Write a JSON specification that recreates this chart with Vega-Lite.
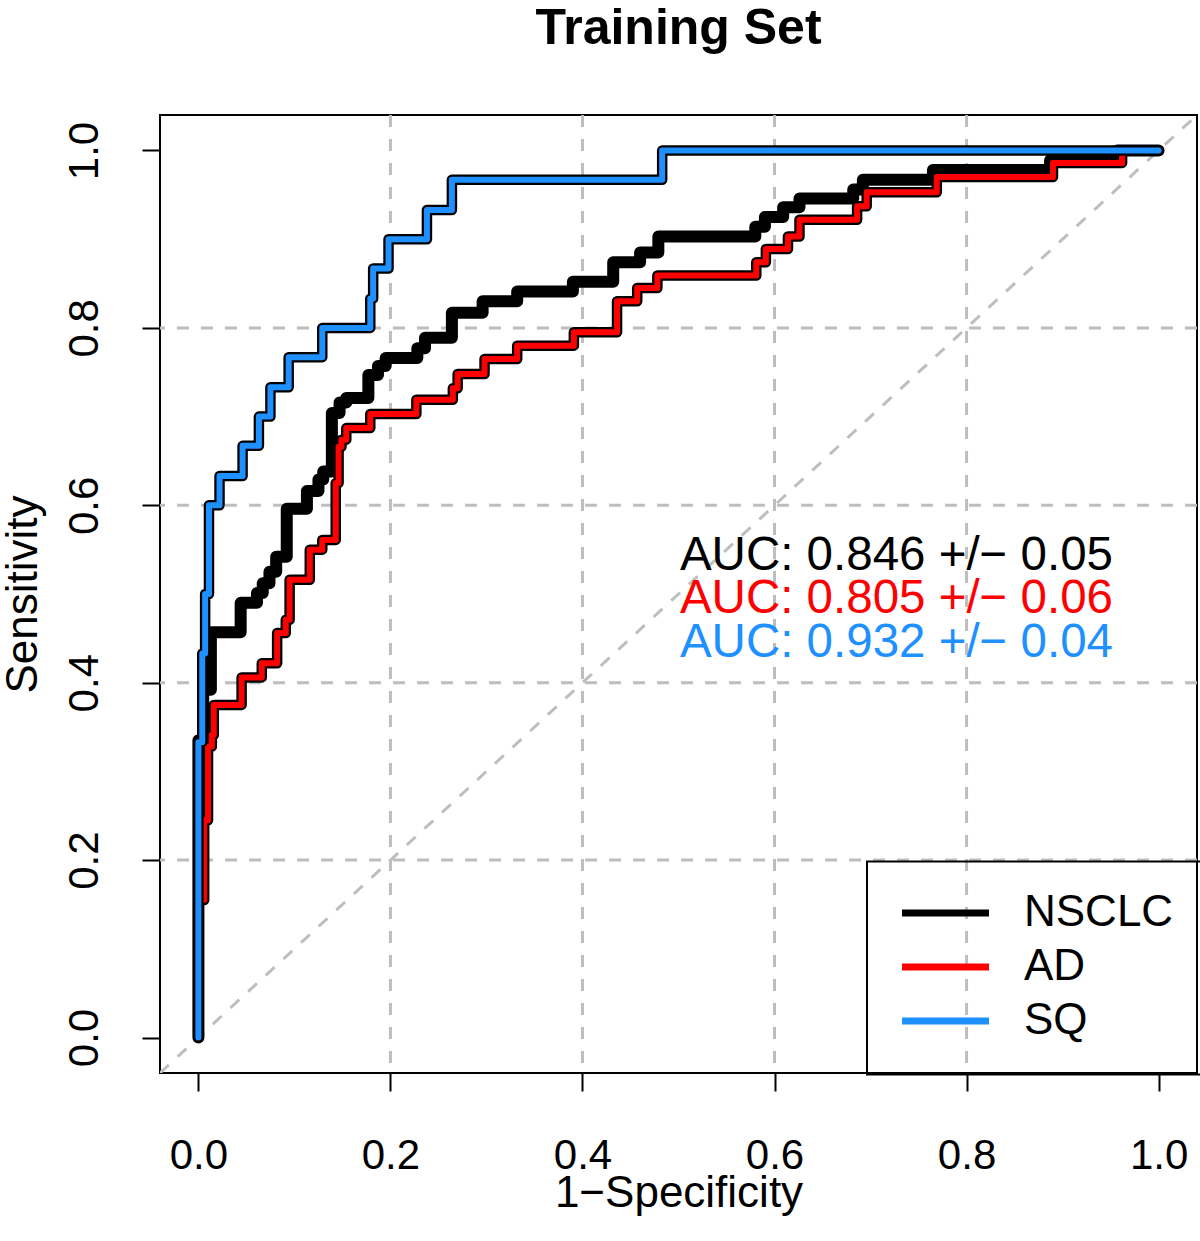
{
  "$schema": "https://vega.github.io/schema/vega-lite/v6.json",
  "width": 1037,
  "height": 958,
  "autosize": {"type": "none"},
  "padding": {"left": 160, "top": 115, "right": 3, "bottom": 168},
  "background": "white",
  "title": {"text": "Training Set", "fontSize": 50, "fontWeight": "bold", "font": "Liberation Sans", "anchor": "middle", "frame": "group", "offset": 20, "color": "black", "baseline": "alphabetic"},
  "config": {
    "font": "Liberation Sans",
    "view": {"stroke": "black", "strokeWidth": 2},
    "legend": {"strokeWidth": 2}
  },
  "datasets": {
    "roc": [
      {"s": "NSCLC", "i": 0, "fpr": 0, "tpr": 0},
      {"s": "NSCLC", "i": 1, "fpr": 0, "tpr": 0.335},
      {"s": "NSCLC", "i": 2, "fpr": 0.005, "tpr": 0.392},
      {"s": "NSCLC", "i": 3, "fpr": 0.013, "tpr": 0.457},
      {"s": "NSCLC", "i": 4, "fpr": 0.044, "tpr": 0.490},
      {"s": "NSCLC", "i": 5, "fpr": 0.061, "tpr": 0.501},
      {"s": "NSCLC", "i": 6, "fpr": 0.067, "tpr": 0.512},
      {"s": "NSCLC", "i": 7, "fpr": 0.074, "tpr": 0.525},
      {"s": "NSCLC", "i": 8, "fpr": 0.081, "tpr": 0.542},
      {"s": "NSCLC", "i": 9, "fpr": 0.092, "tpr": 0.596},
      {"s": "NSCLC", "i": 10, "fpr": 0.113, "tpr": 0.616},
      {"s": "NSCLC", "i": 11, "fpr": 0.125, "tpr": 0.629},
      {"s": "NSCLC", "i": 12, "fpr": 0.130, "tpr": 0.638},
      {"s": "NSCLC", "i": 13, "fpr": 0.139, "tpr": 0.704},
      {"s": "NSCLC", "i": 14, "fpr": 0.147, "tpr": 0.716},
      {"s": "NSCLC", "i": 15, "fpr": 0.154, "tpr": 0.721},
      {"s": "NSCLC", "i": 16, "fpr": 0.177, "tpr": 0.747},
      {"s": "NSCLC", "i": 17, "fpr": 0.187, "tpr": 0.757},
      {"s": "NSCLC", "i": 18, "fpr": 0.195, "tpr": 0.766},
      {"s": "NSCLC", "i": 19, "fpr": 0.228, "tpr": 0.777},
      {"s": "NSCLC", "i": 20, "fpr": 0.236, "tpr": 0.789},
      {"s": "NSCLC", "i": 21, "fpr": 0.264, "tpr": 0.817},
      {"s": "NSCLC", "i": 22, "fpr": 0.296, "tpr": 0.830},
      {"s": "NSCLC", "i": 23, "fpr": 0.332, "tpr": 0.841},
      {"s": "NSCLC", "i": 24, "fpr": 0.390, "tpr": 0.852},
      {"s": "NSCLC", "i": 25, "fpr": 0.432, "tpr": 0.874},
      {"s": "NSCLC", "i": 26, "fpr": 0.460, "tpr": 0.885},
      {"s": "NSCLC", "i": 27, "fpr": 0.479, "tpr": 0.903},
      {"s": "NSCLC", "i": 28, "fpr": 0.580, "tpr": 0.914},
      {"s": "NSCLC", "i": 29, "fpr": 0.590, "tpr": 0.925},
      {"s": "NSCLC", "i": 30, "fpr": 0.609, "tpr": 0.936},
      {"s": "NSCLC", "i": 31, "fpr": 0.626, "tpr": 0.946},
      {"s": "NSCLC", "i": 32, "fpr": 0.682, "tpr": 0.956},
      {"s": "NSCLC", "i": 33, "fpr": 0.692, "tpr": 0.967},
      {"s": "NSCLC", "i": 34, "fpr": 0.765, "tpr": 0.978},
      {"s": "NSCLC", "i": 35, "fpr": 0.887, "tpr": 0.989},
      {"s": "NSCLC", "i": 36, "fpr": 0.957, "tpr": 1.0},
      {"s": "NSCLC", "i": 37, "fpr": 1.0, "tpr": 1.0},
      {"s": "AD", "i": 0, "fpr": 0, "tpr": 0},
      {"s": "AD", "i": 1, "fpr": 0, "tpr": 0.155},
      {"s": "AD", "i": 2, "fpr": 0.006, "tpr": 0.245},
      {"s": "AD", "i": 3, "fpr": 0.010, "tpr": 0.328},
      {"s": "AD", "i": 4, "fpr": 0.014, "tpr": 0.341},
      {"s": "AD", "i": 5, "fpr": 0.016, "tpr": 0.375},
      {"s": "AD", "i": 6, "fpr": 0.045, "tpr": 0.406},
      {"s": "AD", "i": 7, "fpr": 0.066, "tpr": 0.422},
      {"s": "AD", "i": 8, "fpr": 0.082, "tpr": 0.456},
      {"s": "AD", "i": 9, "fpr": 0.091, "tpr": 0.471},
      {"s": "AD", "i": 10, "fpr": 0.095, "tpr": 0.516},
      {"s": "AD", "i": 11, "fpr": 0.116, "tpr": 0.550},
      {"s": "AD", "i": 12, "fpr": 0.129, "tpr": 0.561},
      {"s": "AD", "i": 13, "fpr": 0.143, "tpr": 0.625},
      {"s": "AD", "i": 14, "fpr": 0.146, "tpr": 0.666},
      {"s": "AD", "i": 15, "fpr": 0.149, "tpr": 0.674},
      {"s": "AD", "i": 16, "fpr": 0.154, "tpr": 0.687},
      {"s": "AD", "i": 17, "fpr": 0.179, "tpr": 0.703},
      {"s": "AD", "i": 18, "fpr": 0.227, "tpr": 0.719},
      {"s": "AD", "i": 19, "fpr": 0.265, "tpr": 0.732},
      {"s": "AD", "i": 20, "fpr": 0.270, "tpr": 0.748},
      {"s": "AD", "i": 21, "fpr": 0.298, "tpr": 0.765},
      {"s": "AD", "i": 22, "fpr": 0.332, "tpr": 0.780},
      {"s": "AD", "i": 23, "fpr": 0.391, "tpr": 0.795},
      {"s": "AD", "i": 24, "fpr": 0.436, "tpr": 0.830},
      {"s": "AD", "i": 25, "fpr": 0.457, "tpr": 0.845},
      {"s": "AD", "i": 26, "fpr": 0.478, "tpr": 0.859},
      {"s": "AD", "i": 27, "fpr": 0.581, "tpr": 0.874},
      {"s": "AD", "i": 28, "fpr": 0.591, "tpr": 0.889},
      {"s": "AD", "i": 29, "fpr": 0.614, "tpr": 0.903},
      {"s": "AD", "i": 30, "fpr": 0.626, "tpr": 0.922},
      {"s": "AD", "i": 31, "fpr": 0.686, "tpr": 0.937},
      {"s": "AD", "i": 32, "fpr": 0.696, "tpr": 0.953},
      {"s": "AD", "i": 33, "fpr": 0.769, "tpr": 0.970},
      {"s": "AD", "i": 34, "fpr": 0.890, "tpr": 0.986},
      {"s": "AD", "i": 35, "fpr": 0.962, "tpr": 1.0},
      {"s": "AD", "i": 36, "fpr": 1.0, "tpr": 1.0},
      {"s": "SQ", "i": 0, "fpr": 0, "tpr": 0},
      {"s": "SQ", "i": 1, "fpr": 0, "tpr": 0.333},
      {"s": "SQ", "i": 2, "fpr": 0.004, "tpr": 0.433},
      {"s": "SQ", "i": 3, "fpr": 0.007, "tpr": 0.5},
      {"s": "SQ", "i": 4, "fpr": 0.011, "tpr": 0.6},
      {"s": "SQ", "i": 5, "fpr": 0.022, "tpr": 0.633},
      {"s": "SQ", "i": 6, "fpr": 0.046, "tpr": 0.667},
      {"s": "SQ", "i": 7, "fpr": 0.063, "tpr": 0.7},
      {"s": "SQ", "i": 8, "fpr": 0.075, "tpr": 0.733},
      {"s": "SQ", "i": 9, "fpr": 0.094, "tpr": 0.767},
      {"s": "SQ", "i": 10, "fpr": 0.129, "tpr": 0.8},
      {"s": "SQ", "i": 11, "fpr": 0.179, "tpr": 0.833},
      {"s": "SQ", "i": 12, "fpr": 0.182, "tpr": 0.867},
      {"s": "SQ", "i": 13, "fpr": 0.198, "tpr": 0.9},
      {"s": "SQ", "i": 14, "fpr": 0.238, "tpr": 0.933},
      {"s": "SQ", "i": 15, "fpr": 0.264, "tpr": 0.967},
      {"s": "SQ", "i": 16, "fpr": 0.483, "tpr": 1.0},
      {"s": "SQ", "i": 17, "fpr": 1.0, "tpr": 1.0}
    ],
    "grid": [{"g": 0.2}, {"g": 0.4}, {"g": 0.6}, {"g": 0.8}],
    "auc": [
      {"s": "NSCLC", "label": "AUC: 0.846 +/− 0.05"},
      {"s": "AD", "label": "AUC: 0.805 +/− 0.06"},
      {"s": "SQ", "label": "AUC: 0.932 +/− 0.04"}
    ]
  },
  "layer": [
    {
      "data": {"name": "grid"},
      "mark": {"type": "rule", "color": "#bebebe", "strokeWidth": 3, "strokeDash": [12, 12]},
      "encoding": {
        "x": {"field": "g", "type": "quantitative", "scale": {"domain": [-0.04, 1.04], "nice": false, "zero": false},
          "axis": {"values": [0, 0.2, 0.4, 0.6, 0.8, 1], "format": ".1f", "title": "1−Specificity", "grid": false, "domain": false, "tickSize": 18, "tickWidth": 2, "tickColor": "black", "labelFontSize": 42, "labelColor": "black", "labelPadding": 77, "labelBaseline": "alphabetic", "labelFlush": false, "labelOverlap": false, "titleFontSize": 44, "titleFontWeight": "normal", "titleColor": "black", "titleY": 133, "titleBaseline": "alphabetic"}}
      }
    },
    {
      "data": {"name": "grid"},
      "mark": {"type": "rule", "color": "#bebebe", "strokeWidth": 3, "strokeDash": [12, 12]},
      "encoding": {
        "y": {"field": "g", "type": "quantitative", "scale": {"domain": [-0.04, 1.04], "nice": false, "zero": false},
          "axis": {"values": [0, 0.2, 0.4, 0.6, 0.8, 1], "format": ".1f", "title": "Sensitivity", "grid": false, "domain": false, "tickSize": 18, "tickWidth": 2, "tickColor": "black", "labelFontSize": 42, "labelColor": "black", "labelAngle": 270, "labelAlign": "center", "labelBaseline": "alphabetic", "labelPadding": 45, "labelFlush": false, "labelOverlap": false, "titleFontSize": 44, "titleFontWeight": "normal", "titleColor": "black", "titleAngle": 270, "titleBaseline": "alphabetic", "titleAlign": "center", "titleX": -124, "titleY": 479}}
      }
    },
    {
      "data": {"name": "grid"},
      "transform": [{"filter": "datum.g === 0.2"}],
      "mark": {"type": "rule", "color": "#bebebe", "strokeWidth": 3, "strokeDash": [12, 12], "clip": true},
      "encoding": {
        "x": {"datum": -0.04, "type": "quantitative",
          "axis": {"values": [0, 0.2, 0.4, 0.6, 0.8, 1], "format": ".1f", "title": "1−Specificity", "grid": false, "domain": false, "tickSize": 18, "tickWidth": 2, "tickColor": "black", "labelFontSize": 42, "labelColor": "black", "labelPadding": 77, "labelBaseline": "alphabetic", "labelFlush": false, "labelOverlap": false, "titleFontSize": 44, "titleFontWeight": "normal", "titleColor": "black", "titleY": 133, "titleBaseline": "alphabetic"}},
        "y": {"datum": -0.04, "type": "quantitative",
          "axis": {"values": [0, 0.2, 0.4, 0.6, 0.8, 1], "format": ".1f", "title": "Sensitivity", "grid": false, "domain": false, "tickSize": 18, "tickWidth": 2, "tickColor": "black", "labelFontSize": 42, "labelColor": "black", "labelAngle": 270, "labelAlign": "center", "labelBaseline": "alphabetic", "labelPadding": 45, "labelFlush": false, "labelOverlap": false, "titleFontSize": 44, "titleFontWeight": "normal", "titleColor": "black", "titleAngle": 270, "titleBaseline": "alphabetic", "titleAlign": "center", "titleX": -124, "titleY": 479}},
        "x2": {"datum": 1.04},
        "y2": {"datum": 1.04}
      }
    },
    {
      "data": {"name": "roc"},
      "transform": [{"filter": "datum.s === 'NSCLC'"}],
      "mark": {"type": "line", "interpolate": "step-after", "strokeWidth": 12, "strokeCap": "round", "strokeJoin": "round", "clip": true},
      "encoding": {
        "x": {"field": "fpr", "type": "quantitative",
          "axis": {"values": [0, 0.2, 0.4, 0.6, 0.8, 1], "format": ".1f", "title": "1−Specificity", "grid": false, "domain": false, "tickSize": 18, "tickWidth": 2, "tickColor": "black", "labelFontSize": 42, "labelColor": "black", "labelPadding": 77, "labelBaseline": "alphabetic", "labelFlush": false, "labelOverlap": false, "titleFontSize": 44, "titleFontWeight": "normal", "titleColor": "black", "titleY": 133, "titleBaseline": "alphabetic"}},
        "y": {"field": "tpr", "type": "quantitative",
          "axis": {"values": [0, 0.2, 0.4, 0.6, 0.8, 1], "format": ".1f", "title": "Sensitivity", "grid": false, "domain": false, "tickSize": 18, "tickWidth": 2, "tickColor": "black", "labelFontSize": 42, "labelColor": "black", "labelAngle": 270, "labelAlign": "center", "labelBaseline": "alphabetic", "labelPadding": 45, "labelFlush": false, "labelOverlap": false, "titleFontSize": 44, "titleFontWeight": "normal", "titleColor": "black", "titleAngle": 270, "titleBaseline": "alphabetic", "titleAlign": "center", "titleX": -124, "titleY": 479}},
        "order": {"field": "i", "type": "quantitative"},
        "color": {"field": "s", "type": "nominal", "scale": {"domain": ["NSCLC", "AD", "SQ"], "range": ["#000000", "#FF0000", "#1E90FF"]},
          "legend": {"title": null, "orient": "none", "legendX": 707, "legendY": 746.5, "strokeColor": "black", "padding": 31.5, "clipHeight": 40, "rowPadding": 10, "symbolType": "stroke", "symbolSize": 7569, "symbolStrokeWidth": 7, "labelFontSize": 44, "labelColor": "black", "labelOffset": 31.5, "labelFont": "Liberation Sans"}}
      }
    },
    {
      "data": {"name": "roc"},
      "transform": [{"filter": "datum.s === 'AD'"}],
      "mark": {"type": "line", "interpolate": "step-after", "strokeWidth": 10.5, "strokeCap": "round", "strokeJoin": "round", "clip": true, "color": "black"},
      "encoding": {
        "x": {"field": "fpr", "type": "quantitative",
          "axis": {"values": [0, 0.2, 0.4, 0.6, 0.8, 1], "format": ".1f", "title": "1−Specificity", "grid": false, "domain": false, "tickSize": 18, "tickWidth": 2, "tickColor": "black", "labelFontSize": 42, "labelColor": "black", "labelPadding": 77, "labelBaseline": "alphabetic", "labelFlush": false, "labelOverlap": false, "titleFontSize": 44, "titleFontWeight": "normal", "titleColor": "black", "titleY": 133, "titleBaseline": "alphabetic"}},
        "y": {"field": "tpr", "type": "quantitative",
          "axis": {"values": [0, 0.2, 0.4, 0.6, 0.8, 1], "format": ".1f", "title": "Sensitivity", "grid": false, "domain": false, "tickSize": 18, "tickWidth": 2, "tickColor": "black", "labelFontSize": 42, "labelColor": "black", "labelAngle": 270, "labelAlign": "center", "labelBaseline": "alphabetic", "labelPadding": 45, "labelFlush": false, "labelOverlap": false, "titleFontSize": 44, "titleFontWeight": "normal", "titleColor": "black", "titleAngle": 270, "titleBaseline": "alphabetic", "titleAlign": "center", "titleX": -124, "titleY": 479}},
        "order": {"field": "i", "type": "quantitative"}
      }
    },
    {
      "data": {"name": "roc"},
      "transform": [{"filter": "datum.s === 'AD'"}],
      "mark": {"type": "line", "interpolate": "step-after", "strokeWidth": 6, "strokeCap": "round", "strokeJoin": "round", "clip": true},
      "encoding": {
        "x": {"field": "fpr", "type": "quantitative",
          "axis": {"values": [0, 0.2, 0.4, 0.6, 0.8, 1], "format": ".1f", "title": "1−Specificity", "grid": false, "domain": false, "tickSize": 18, "tickWidth": 2, "tickColor": "black", "labelFontSize": 42, "labelColor": "black", "labelPadding": 77, "labelBaseline": "alphabetic", "labelFlush": false, "labelOverlap": false, "titleFontSize": 44, "titleFontWeight": "normal", "titleColor": "black", "titleY": 133, "titleBaseline": "alphabetic"}},
        "y": {"field": "tpr", "type": "quantitative",
          "axis": {"values": [0, 0.2, 0.4, 0.6, 0.8, 1], "format": ".1f", "title": "Sensitivity", "grid": false, "domain": false, "tickSize": 18, "tickWidth": 2, "tickColor": "black", "labelFontSize": 42, "labelColor": "black", "labelAngle": 270, "labelAlign": "center", "labelBaseline": "alphabetic", "labelPadding": 45, "labelFlush": false, "labelOverlap": false, "titleFontSize": 44, "titleFontWeight": "normal", "titleColor": "black", "titleAngle": 270, "titleBaseline": "alphabetic", "titleAlign": "center", "titleX": -124, "titleY": 479}},
        "order": {"field": "i", "type": "quantitative"},
        "color": {"field": "s", "type": "nominal"}
      }
    },
    {
      "data": {"name": "roc"},
      "transform": [{"filter": "datum.s === 'SQ'"}],
      "mark": {"type": "line", "interpolate": "step-after", "strokeWidth": 10.5, "strokeCap": "round", "strokeJoin": "round", "clip": true, "color": "black"},
      "encoding": {
        "x": {"field": "fpr", "type": "quantitative",
          "axis": {"values": [0, 0.2, 0.4, 0.6, 0.8, 1], "format": ".1f", "title": "1−Specificity", "grid": false, "domain": false, "tickSize": 18, "tickWidth": 2, "tickColor": "black", "labelFontSize": 42, "labelColor": "black", "labelPadding": 77, "labelBaseline": "alphabetic", "labelFlush": false, "labelOverlap": false, "titleFontSize": 44, "titleFontWeight": "normal", "titleColor": "black", "titleY": 133, "titleBaseline": "alphabetic"}},
        "y": {"field": "tpr", "type": "quantitative",
          "axis": {"values": [0, 0.2, 0.4, 0.6, 0.8, 1], "format": ".1f", "title": "Sensitivity", "grid": false, "domain": false, "tickSize": 18, "tickWidth": 2, "tickColor": "black", "labelFontSize": 42, "labelColor": "black", "labelAngle": 270, "labelAlign": "center", "labelBaseline": "alphabetic", "labelPadding": 45, "labelFlush": false, "labelOverlap": false, "titleFontSize": 44, "titleFontWeight": "normal", "titleColor": "black", "titleAngle": 270, "titleBaseline": "alphabetic", "titleAlign": "center", "titleX": -124, "titleY": 479}},
        "order": {"field": "i", "type": "quantitative"}
      }
    },
    {
      "data": {"name": "roc"},
      "transform": [{"filter": "datum.s === 'SQ'"}],
      "mark": {"type": "line", "interpolate": "step-after", "strokeWidth": 6, "strokeCap": "round", "strokeJoin": "round", "clip": true},
      "encoding": {
        "x": {"field": "fpr", "type": "quantitative",
          "axis": {"values": [0, 0.2, 0.4, 0.6, 0.8, 1], "format": ".1f", "title": "1−Specificity", "grid": false, "domain": false, "tickSize": 18, "tickWidth": 2, "tickColor": "black", "labelFontSize": 42, "labelColor": "black", "labelPadding": 77, "labelBaseline": "alphabetic", "labelFlush": false, "labelOverlap": false, "titleFontSize": 44, "titleFontWeight": "normal", "titleColor": "black", "titleY": 133, "titleBaseline": "alphabetic"}},
        "y": {"field": "tpr", "type": "quantitative",
          "axis": {"values": [0, 0.2, 0.4, 0.6, 0.8, 1], "format": ".1f", "title": "Sensitivity", "grid": false, "domain": false, "tickSize": 18, "tickWidth": 2, "tickColor": "black", "labelFontSize": 42, "labelColor": "black", "labelAngle": 270, "labelAlign": "center", "labelBaseline": "alphabetic", "labelPadding": 45, "labelFlush": false, "labelOverlap": false, "titleFontSize": 44, "titleFontWeight": "normal", "titleColor": "black", "titleAngle": 270, "titleBaseline": "alphabetic", "titleAlign": "center", "titleX": -124, "titleY": 479}},
        "order": {"field": "i", "type": "quantitative"},
        "color": {"field": "s", "type": "nominal"}
      }
    },
    {
      "data": {"name": "auc"},
      "transform": [{"filter": "datum.s === 'NSCLC'"}],
      "mark": {"type": "text", "align": "left", "baseline": "alphabetic", "fontSize": 47.5, "color": "#000000"},
      "encoding": {
        "x": {"datum": 0.5015, "type": "quantitative",
          "axis": {"values": [0, 0.2, 0.4, 0.6, 0.8, 1], "format": ".1f", "title": "1−Specificity", "grid": false, "domain": false, "tickSize": 18, "tickWidth": 2, "tickColor": "black", "labelFontSize": 42, "labelColor": "black", "labelPadding": 77, "labelBaseline": "alphabetic", "labelFlush": false, "labelOverlap": false, "titleFontSize": 44, "titleFontWeight": "normal", "titleColor": "black", "titleY": 133, "titleBaseline": "alphabetic"}},
        "y": {"datum": 0.527, "type": "quantitative",
          "axis": {"values": [0, 0.2, 0.4, 0.6, 0.8, 1], "format": ".1f", "title": "Sensitivity", "grid": false, "domain": false, "tickSize": 18, "tickWidth": 2, "tickColor": "black", "labelFontSize": 42, "labelColor": "black", "labelAngle": 270, "labelAlign": "center", "labelBaseline": "alphabetic", "labelPadding": 45, "labelFlush": false, "labelOverlap": false, "titleFontSize": 44, "titleFontWeight": "normal", "titleColor": "black", "titleAngle": 270, "titleBaseline": "alphabetic", "titleAlign": "center", "titleX": -124, "titleY": 479}},
        "text": {"field": "label"}
      }
    },
    {
      "data": {"name": "auc"},
      "transform": [{"filter": "datum.s === 'AD'"}],
      "mark": {"type": "text", "align": "left", "baseline": "alphabetic", "fontSize": 47.5, "color": "#FF0000"},
      "encoding": {
        "x": {"datum": 0.5015, "type": "quantitative",
          "axis": {"values": [0, 0.2, 0.4, 0.6, 0.8, 1], "format": ".1f", "title": "1−Specificity", "grid": false, "domain": false, "tickSize": 18, "tickWidth": 2, "tickColor": "black", "labelFontSize": 42, "labelColor": "black", "labelPadding": 77, "labelBaseline": "alphabetic", "labelFlush": false, "labelOverlap": false, "titleFontSize": 44, "titleFontWeight": "normal", "titleColor": "black", "titleY": 133, "titleBaseline": "alphabetic"}},
        "y": {"datum": 0.4786, "type": "quantitative",
          "axis": {"values": [0, 0.2, 0.4, 0.6, 0.8, 1], "format": ".1f", "title": "Sensitivity", "grid": false, "domain": false, "tickSize": 18, "tickWidth": 2, "tickColor": "black", "labelFontSize": 42, "labelColor": "black", "labelAngle": 270, "labelAlign": "center", "labelBaseline": "alphabetic", "labelPadding": 45, "labelFlush": false, "labelOverlap": false, "titleFontSize": 44, "titleFontWeight": "normal", "titleColor": "black", "titleAngle": 270, "titleBaseline": "alphabetic", "titleAlign": "center", "titleX": -124, "titleY": 479}},
        "text": {"field": "label"}
      }
    },
    {
      "data": {"name": "auc"},
      "transform": [{"filter": "datum.s === 'SQ'"}],
      "mark": {"type": "text", "align": "left", "baseline": "alphabetic", "fontSize": 47.5, "color": "#1E90FF"},
      "encoding": {
        "x": {"datum": 0.5015, "type": "quantitative",
          "axis": {"values": [0, 0.2, 0.4, 0.6, 0.8, 1], "format": ".1f", "title": "1−Specificity", "grid": false, "domain": false, "tickSize": 18, "tickWidth": 2, "tickColor": "black", "labelFontSize": 42, "labelColor": "black", "labelPadding": 77, "labelBaseline": "alphabetic", "labelFlush": false, "labelOverlap": false, "titleFontSize": 44, "titleFontWeight": "normal", "titleColor": "black", "titleY": 133, "titleBaseline": "alphabetic"}},
        "y": {"datum": 0.429, "type": "quantitative",
          "axis": {"values": [0, 0.2, 0.4, 0.6, 0.8, 1], "format": ".1f", "title": "Sensitivity", "grid": false, "domain": false, "tickSize": 18, "tickWidth": 2, "tickColor": "black", "labelFontSize": 42, "labelColor": "black", "labelAngle": 270, "labelAlign": "center", "labelBaseline": "alphabetic", "labelPadding": 45, "labelFlush": false, "labelOverlap": false, "titleFontSize": 44, "titleFontWeight": "normal", "titleColor": "black", "titleAngle": 270, "titleBaseline": "alphabetic", "titleAlign": "center", "titleX": -124, "titleY": 479}},
        "text": {"field": "label"}
      }
    }
  ]
}
